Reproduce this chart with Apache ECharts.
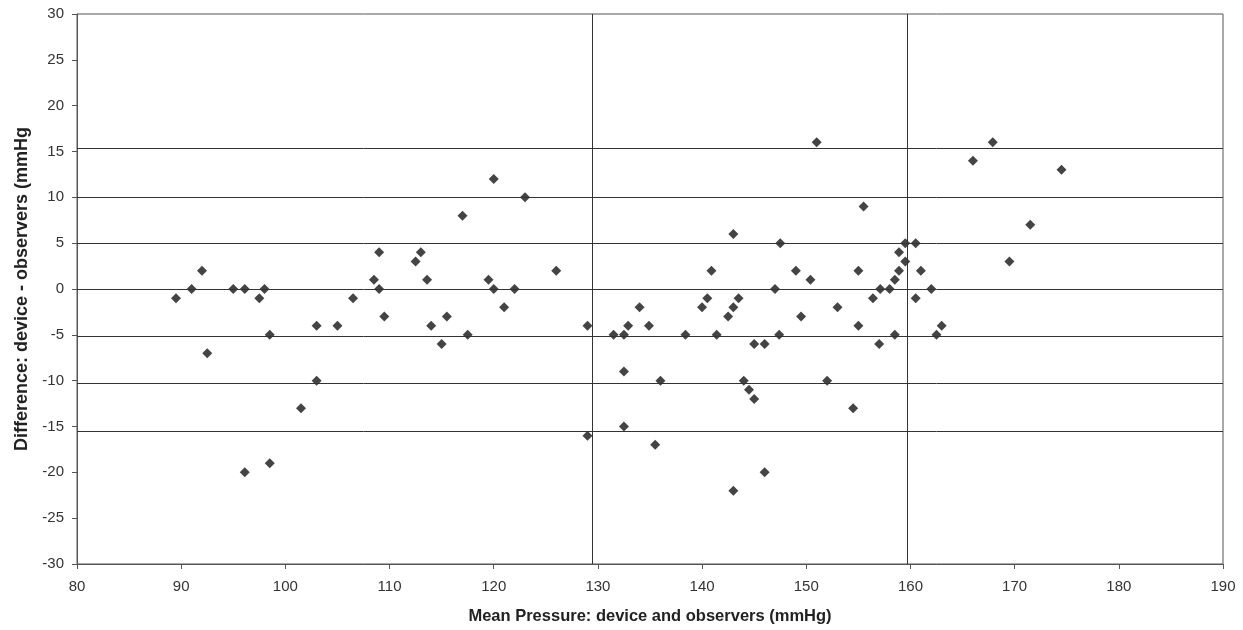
<!DOCTYPE html>
<html>
<head>
<meta charset="utf-8">
<script src="https://cdn.jsdelivr.net/npm/echarts@6/dist/echarts.min.js"></script>
<style>html,body{margin:0;padding:0;background:#fff;}#c{width:1243px;height:630px;}</style>
</head>
<body>
<div id="c"></div>
<script>
// Mean pressure (x) and difference (y) for each observation
const meanPressure = [
  89.5, 91.0, 92.0, 92.5, 95.0, 96.1, 96.1, 97.5, 98.0, 98.5, 98.5,
  101.5, 103.0, 103.0, 105.0, 106.5, 108.5, 109.0, 109.0, 109.5,
  112.5, 113.0, 113.6, 114.0, 115.0, 115.5, 117.0, 117.5, 119.5, 120.0, 120.0,
  121.0, 122.0, 123.0, 126.0,
  129.0, 129.0, 131.5, 132.5, 132.5, 132.5, 132.9, 134.0, 134.9, 135.5, 136.0,
  138.4, 140.0, 140.5, 140.9, 141.4, 142.5, 143.0, 143.0, 143.0, 143.5,
  144.0, 144.5, 145.0, 145.0, 146.0, 146.0, 147.0, 147.4, 147.5,
  149.0, 149.5, 150.4, 151.0, 152.0, 153.0, 154.5, 155.0, 155.0, 155.5,
  156.4, 157.0, 157.1, 158.0, 158.5, 158.5, 158.9, 158.9, 159.5, 159.5,
  160.5, 160.5, 161.0, 162.0, 162.5, 163.0,
  166.0, 167.9, 169.5, 171.5, 174.5
];
const difference = [
  -1, 0, 2, -7, 0, 0, -20, -1, 0, -5, -19,
  -13, -4, -10, -4, -1, 1, 4, 0, -3,
  3, 4, 1, -4, -6, -3, 8, -5, 1, 12, 0,
  -2, 0, 10, 2,
  -4, -16, -5, -5, -9, -15, -4, -2, -4, -17, -10,
  -5, -2, -1, 2, -5, -3, 6, -2, -22, -1,
  -10, -11, -6, -12, -6, -20, 0, -5, 5,
  2, -3, 1, 16, -10, -2, -13, 2, -4, 9,
  -1, -6, 0, 0, 1, -5, 4, 2, 5, 3,
  5, -1, 2, 0, -5, -4,
  14, 16, 3, 7, 13
];
// Reference lines
const hLines = [15.4, 10, 5, 0, -5.2, -10.3, -15.5];
const vLines = [129.5, 159.7];

const xName = 'Mean Pressure: device and observers (mmHg)';
const yName = 'Difference: device - observers (mmHg';

const points = meanPressure.map((x, i) => [x, difference[i]]);
const font = '"Liberation Sans", Arial, sans-serif';
const axisColor = '#555';

const chart = echarts.init(document.getElementById('c'), null, {renderer: 'canvas'});
chart.setOption({
  animation: false,
  backgroundColor: '#ffffff',
  grid: {left: 77, right: 20, top: 14, bottom: 66, show: true, borderColor: axisColor, borderWidth: 1},
  xAxis: {
    type: 'value', min: 80, max: 190, interval: 10,
    name: xName, nameLocation: 'middle', nameGap: 44,
    nameTextStyle: {fontFamily: font, fontSize: 16.5, fontWeight: 'bold', color: '#222'},
    axisLine: {show: true, onZero: false, lineStyle: {color: axisColor, width: 1}},
    axisTick: {show: true, inside: false, length: 5, lineStyle: {color: axisColor}},
    axisLabel: {fontFamily: font, fontSize: 15, color: '#333', margin: 15},
    splitLine: {show: false}
  },
  yAxis: {
    type: 'value', min: -30, max: 30, interval: 5,
    name: yName, nameLocation: 'middle', nameGap: 46,
    nameTextStyle: {fontFamily: font, fontSize: 18, fontWeight: 'bold', color: '#222'},
    axisLine: {show: true, onZero: false, lineStyle: {color: axisColor, width: 1}},
    axisTick: {show: true, inside: false, length: 5, lineStyle: {color: axisColor}},
    axisLabel: {fontFamily: font, fontSize: 15, color: '#333', margin: 13},
    splitLine: {show: false}
  },
  series: [
    {
      type: 'scatter',
      data: points,
      symbol: 'diamond',
      symbolSize: 10,
      itemStyle: {color: '#151515'},
      z: 3,
      markLine: {
        silent: true,
        symbol: ['none', 'none'],
        label: {show: false},
        lineStyle: {color: '#333', width: 1, type: 'solid'},
        emphasis: {disabled: true},
        data: hLines.map(v => ({yAxis: v})).concat(vLines.map(v => ({xAxis: v})))
      }
    }
  ]
});
</script>
</body>
</html>
